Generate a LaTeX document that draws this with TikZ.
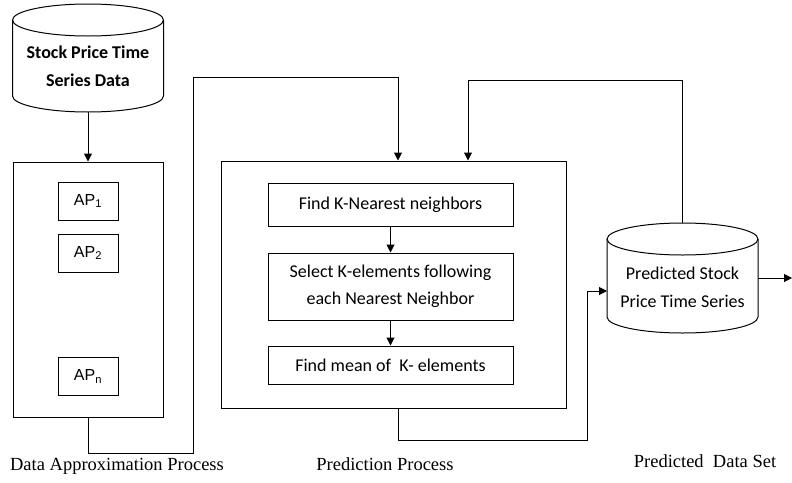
\documentclass[tikz,border=0pt]{standalone}
\usepackage{fontspec}
\setmainfont{Liberation Serif}
\newfontfamily\calibrifont{Carlito}
\newfontfamily\arialfont{Liberation Sans}
\usetikzlibrary{arrows.meta, positioning}

\begin{document}
\begin{tikzpicture}[x=1pt, y=-1pt,
    dbshape/.style={minimum width=151pt, inner sep=0pt, outer sep=0pt, align=center, font=\calibrifont\fontsize{18}{28}\selectfont},
    stagebox/.style={draw, line width=1pt},
    apcell/.style={draw, line width=1pt, minimum width=60pt, minimum height=38pt, font=\arialfont\fontsize{16}{18}\selectfont},
    stepcell/.style={draw, line width=1pt, minimum width=245pt, align=center, font=\calibrifont\fontsize{18}{27}\selectfont},
    arr/.style={-{Triangle[length=8pt, width=8pt]}, line width=1pt},
    caption/.style={font=\fontsize{18.5}{20}\selectfont}
]
\useasboundingbox (0,0) rectangle (792,482);
\node[dbshape, text height=82pt, text depth=26pt, font=\calibrifont\bfseries\fontsize{18}{28}\selectfont] (srcdb) at (88,58) {Stock Price Time\\Series Data};
\node[dbshape, text height=84pt, text depth=26pt] (outdb) at (682.5,278) {Predicted Stock\\Price Time Series};
\foreach \db in {srcdb, outdb} {
  \draw[line width=1pt] ([yshift=-16pt]\db.north west) -- ([yshift=16pt]\db.south west)
    arc[start angle=180, end angle=360, x radius=75.5pt, y radius=16pt] -- ([yshift=-16pt]\db.north east);
  \draw[line width=1pt] ([yshift=-16pt]\db.north) ellipse[x radius=75.5pt, y radius=16pt];
}
\node[stagebox, minimum width=150pt, minimum height=255pt] (apprbox) at (88,289.5) {};
\node[apcell] (ap1) at (88,201) {AP\textsubscript{1}};
\node[apcell, below=13pt of ap1] (ap2) {AP\textsubscript{2}};
\node[apcell] (apn) at (88,376.5) {AP\textsubscript{n}};
\node[stagebox, minimum width=345pt, minimum height=247pt] (predbox) at (393.5,284.5) {};
\node[stepcell, minimum height=43pt] (knn) at (390.5,204.5) {Find K-Nearest neighbors};
\node[stepcell, minimum height=67pt, below=26pt of knn] (sel) {Select K-elements following\\each Nearest Neighbor};
\node[stepcell, minimum height=38pt, below=25pt of sel] (mean) {Find mean of \ K- elements};
\node[caption] (cap1) at (117,466) {Data Approximation Process};
\node[caption] (cap2) at (385,464) {Prediction Process};
\node[caption] (cap3) at (705,461) {Predicted\ \ Data Set};
\coordinate (turn) at (587,291);
\coordinate (exit) at (792,280);
\draw[arr] (srcdb.south) -- (apprbox.north);
\draw[arr] (knn) -- (sel);
\draw[arr] (sel) -- (mean);
\draw[arr] (apprbox.south) -- ++(0,36) -| (193,77) -| ([xshift=4.5pt]predbox.north);
\draw[arr] (outdb.north) -- ++(0,-143) -| ([xshift=74.5pt]predbox.north);
\draw[arr] ([xshift=4.5pt]predbox.south) -- ++(0,32) -| (turn) -- (turn -| outdb.west);
\draw[arr] (outdb.east) -- (outdb.east -| exit);
\end{tikzpicture}
\end{document}
